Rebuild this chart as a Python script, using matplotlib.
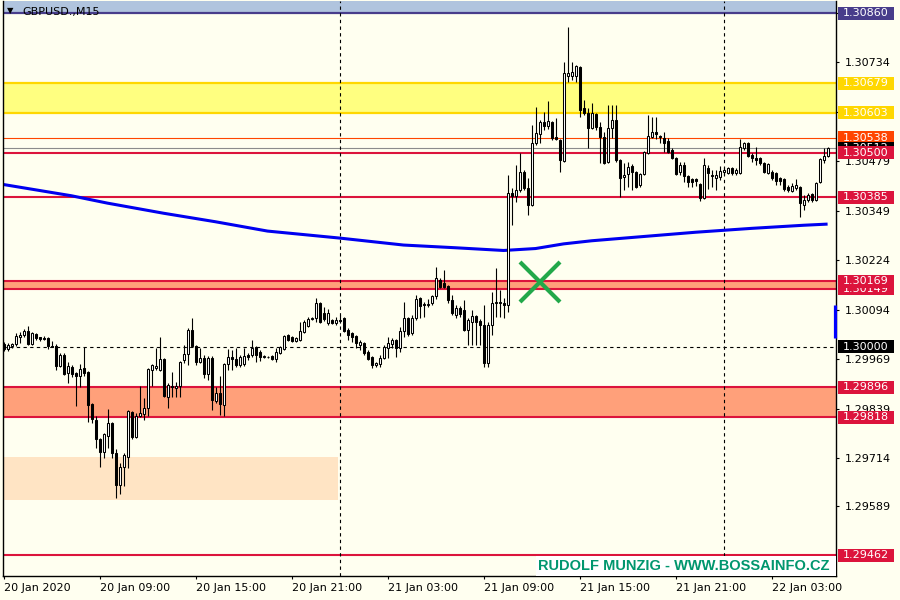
import matplotlib
matplotlib.use('Agg')
import matplotlib.pyplot as plt
import matplotlib.transforms as mtransforms
from matplotlib.patches import Rectangle
import numpy as np

# ---------------- data (GBPUSD M15) ----------------
opens = [
    1.30007, 1.29994, 1.30002, 1.30007, 1.30025, 1.30030, 1.30040, 1.30007, 1.30033, 1.30025,
    1.30022, 1.30022, 1.30002, 1.30002, 1.29950, 1.29979, 1.29932, 1.29948, 1.29932, 1.29924,
    1.29945, 1.29935, 1.29852, 1.29811, 1.29762, 1.29728, 1.29770, 1.29803, 1.29726, 1.29643,
    1.29690, 1.29715, 1.29831, 1.29767, 1.29821, 1.29826, 1.29842, 1.29940, 1.29945, 1.29940,
    1.29968, 1.29870, 1.29899, 1.29893, 1.29899, 1.29966, 1.29981, 1.30043, 1.30002, 1.29960,
    1.29971, 1.29930, 1.29971, 1.29860, 1.29881, 1.29850, 1.29955, 1.29973, 1.29968, 1.29953,
    1.29955, 1.29979, 1.29979, 1.29999, 1.29986, 1.29973, 1.29973, 1.29976, 1.29968, 1.29984,
    1.29994, 1.30030, 1.30025, 1.30015, 1.30017, 1.30038, 1.30053, 1.30071, 1.30074, 1.30113,
    1.30087, 1.30061, 1.30069, 1.30061, 1.30069, 1.30074, 1.30043, 1.30035, 1.30027, 1.30004,
    1.30009, 1.29986, 1.29973, 1.29953, 1.29955, 1.29971, 1.29997, 1.30007, 1.30017, 1.29997,
    1.30040, 1.30074, 1.30035, 1.30074, 1.30125, 1.30110, 1.30107, 1.30113, 1.30131, 1.30172,
    1.30164, 1.30156, 1.30120, 1.30082, 1.30100, 1.30095, 1.30043, 1.30064, 1.30079, 1.30066,
    1.30056, 1.29958, 1.30056, 1.30113, 1.30115, 1.30113, 1.30107, 1.30396, 1.30389, 1.30404,
    1.30450, 1.30409, 1.30365, 1.30525, 1.30548, 1.30579, 1.30569, 1.30579, 1.30541, 1.30533,
    1.30479, 1.30698, 1.30698, 1.30698, 1.30721, 1.30615, 1.30603, 1.30564, 1.30600, 1.30566,
    1.30541, 1.30476, 1.30564, 1.30585, 1.30481, 1.30437, 1.30445, 1.30466, 1.30450, 1.30417,
    1.30445, 1.30499, 1.30541, 1.30554, 1.30543, 1.30538, 1.30530, 1.30507, 1.30486, 1.30450,
    1.30469, 1.30440, 1.30432, 1.30432, 1.30419, 1.30383, 1.30461, 1.30443, 1.30435, 1.30437,
    1.30450, 1.30448, 1.30461, 1.30448, 1.30448, 1.30512, 1.30525, 1.30494, 1.30486, 1.30486,
    1.30474, 1.30448, 1.30450, 1.30448, 1.30435, 1.30432, 1.30412, 1.30401, 1.30409, 1.30412,
    1.30365, 1.30378, 1.30394, 1.30378, 1.30425, 1.30481, 1.30492,
]
highs = [
    1.30012, 1.30009, 1.30009, 1.30035, 1.30038, 1.30046, 1.30053, 1.30038, 1.30035, 1.30025,
    1.30027, 1.30025, 1.30015, 1.30007, 1.29984, 1.29984, 1.29960, 1.29953, 1.29935, 1.29955,
    1.29999, 1.29937, 1.29855, 1.29821, 1.29764, 1.29777, 1.29839, 1.29806, 1.29736, 1.29700,
    1.29726, 1.29837, 1.29834, 1.29829, 1.29899, 1.29868, 1.29945, 1.29955, 1.29997, 1.30025,
    1.29971, 1.29906, 1.29935, 1.29909, 1.29963, 1.30004, 1.30048, 1.30074, 1.30004, 1.29997,
    1.29979, 1.29976, 1.29976, 1.29896, 1.29924, 1.29958, 1.29994, 1.29991, 1.29997, 1.29979,
    1.29997, 1.29984, 1.30017, 1.30002, 1.29991, 1.29979, 1.29976, 1.29979, 1.29997, 1.30002,
    1.30030, 1.30033, 1.30027, 1.30025, 1.30064, 1.30069, 1.30077, 1.30077, 1.30125, 1.30115,
    1.30102, 1.30097, 1.30071, 1.30077, 1.30082, 1.30077, 1.30048, 1.30038, 1.30030, 1.30017,
    1.30012, 1.29991, 1.29976, 1.29960, 1.29979, 1.30004, 1.30025, 1.30022, 1.30020, 1.30051,
    1.30115, 1.30077, 1.30082, 1.30133, 1.30128, 1.30115, 1.30123, 1.30133, 1.30205, 1.30177,
    1.30198, 1.30159, 1.30133, 1.30107, 1.30105, 1.30120, 1.30074, 1.30095, 1.30082, 1.30071,
    1.30107, 1.30064, 1.30141, 1.30203, 1.30146, 1.30125, 1.30443, 1.30409, 1.30469, 1.30499,
    1.30456, 1.30435, 1.30572, 1.30618, 1.30585, 1.30605, 1.30634, 1.30582, 1.30590, 1.30536,
    1.30734, 1.30824, 1.30734, 1.30726, 1.30724, 1.30636, 1.30615, 1.30628, 1.30603, 1.30579,
    1.30554, 1.30623, 1.30623, 1.30623, 1.30484, 1.30474, 1.30476, 1.30471, 1.30453, 1.30448,
    1.30505, 1.30597, 1.30592, 1.30592, 1.30546, 1.30554, 1.30538, 1.30512, 1.30489, 1.30476,
    1.30476, 1.30443, 1.30435, 1.30435, 1.30422, 1.30486, 1.30469, 1.30456, 1.30456, 1.30466,
    1.30463, 1.30463, 1.30463, 1.30461, 1.30536, 1.30528, 1.30528, 1.30499, 1.30515, 1.30489,
    1.30476, 1.30474, 1.30456, 1.30450, 1.30437, 1.30435, 1.30417, 1.30422, 1.30432, 1.30414,
    1.30391, 1.30396, 1.30396, 1.30425, 1.30486, 1.30512, 1.30515,
]
lows = [
    1.29989, 1.29989, 1.29997, 1.30002, 1.30009, 1.30025, 1.30004, 1.30004, 1.30017, 1.30015,
    1.30017, 1.29994, 1.29999, 1.29940, 1.29948, 1.29927, 1.29906, 1.29922, 1.29847, 1.29896,
    1.29924, 1.29806, 1.29803, 1.29739, 1.29690, 1.29713, 1.29739, 1.29713, 1.29610, 1.29620,
    1.29641, 1.29687, 1.29762, 1.29764, 1.29819, 1.29811, 1.29821, 1.29899, 1.29940, 1.29937,
    1.29870, 1.29842, 1.29870, 1.29870, 1.29870, 1.29958, 1.29953, 1.29999, 1.29953, 1.29958,
    1.29919, 1.29914, 1.29837, 1.29855, 1.29824, 1.29821, 1.29940, 1.29940, 1.29948, 1.29948,
    1.29950, 1.29966, 1.29973, 1.29960, 1.29963, 1.29971, 1.29971, 1.29966, 1.29960, 1.29981,
    1.29991, 1.30015, 1.30012, 1.30012, 1.30015, 1.30035, 1.30051, 1.30069, 1.30064, 1.30061,
    1.30066, 1.30056, 1.30058, 1.30056, 1.30061, 1.30038, 1.30017, 1.30012, 1.29997, 1.29991,
    1.29979, 1.29966, 1.29945, 1.29948, 1.29948, 1.29968, 1.29971, 1.29997, 1.29973, 1.29986,
    1.30025, 1.30027, 1.30030, 1.30069, 1.30074, 1.30077, 1.30102, 1.30107, 1.30123, 1.30151,
    1.30151, 1.30113, 1.30082, 1.30074, 1.30077, 1.30040, 1.30004, 1.30004, 1.30004, 1.30004,
    1.29948, 1.29948, 1.30030, 1.30077, 1.30077, 1.30074, 1.30089, 1.30314, 1.30373, 1.30399,
    1.30404, 1.30340, 1.30363, 1.30520, 1.30525, 1.30559, 1.30561, 1.30533, 1.30533, 1.30450,
    1.30476, 1.30683, 1.30688, 1.30683, 1.30592, 1.30597, 1.30512, 1.30561, 1.30559, 1.30474,
    1.30471, 1.30474, 1.30538, 1.30476, 1.30386, 1.30404, 1.30412, 1.30404, 1.30409, 1.30412,
    1.30443, 1.30497, 1.30538, 1.30536, 1.30525, 1.30502, 1.30499, 1.30484, 1.30443, 1.30443,
    1.30425, 1.30412, 1.30412, 1.30414, 1.30376, 1.30381, 1.30407, 1.30412, 1.30404, 1.30430,
    1.30443, 1.30445, 1.30443, 1.30443, 1.30445, 1.30507, 1.30489, 1.30476, 1.30469, 1.30469,
    1.30448, 1.30445, 1.30430, 1.30417, 1.30417, 1.30401, 1.30399, 1.30399, 1.30404, 1.30334,
    1.30352, 1.30373, 1.30373, 1.30376, 1.30422, 1.30474, 1.30489,
]
closes = [
    1.29994, 1.30004, 1.30007, 1.30027, 1.30030, 1.30040, 1.30007, 1.30035, 1.30022, 1.30020,
    1.30020, 1.30002, 1.29999, 1.29950, 1.29979, 1.29930, 1.29950, 1.29930, 1.29924, 1.29942,
    1.29932, 1.29850, 1.29813, 1.29762, 1.29728, 1.29775, 1.29803, 1.29726, 1.29643, 1.29690,
    1.29721, 1.29834, 1.29767, 1.29821, 1.29829, 1.29842, 1.29942, 1.29953, 1.29950, 1.29968,
    1.29873, 1.29901, 1.29896, 1.29899, 1.29960, 1.29981, 1.30043, 1.30002, 1.29960, 1.29971,
    1.29930, 1.29971, 1.29862, 1.29881, 1.29852, 1.29955, 1.29973, 1.29968, 1.29953, 1.29973,
    1.29976, 1.29973, 1.29997, 1.29979, 1.29973, 1.29976, 1.29973, 1.29968, 1.29986, 1.29999,
    1.30027, 1.30017, 1.30015, 1.30022, 1.30040, 1.30064, 1.30071, 1.30074, 1.30113, 1.30064,
    1.30071, 1.30087, 1.30061, 1.30069, 1.30066, 1.30040, 1.30030, 1.30025, 1.30009, 1.30012,
    1.29984, 1.29968, 1.29953, 1.29958, 1.29971, 1.29999, 1.30009, 1.30017, 1.29997, 1.30040,
    1.30074, 1.30033, 1.30074, 1.30123, 1.30105, 1.30107, 1.30110, 1.30131, 1.30177, 1.30154,
    1.30154, 1.30120, 1.30087, 1.30100, 1.30084, 1.30043, 1.30069, 1.30079, 1.30064, 1.30056,
    1.29958, 1.30056, 1.30113, 1.30115, 1.30113, 1.30107, 1.30396, 1.30389, 1.30404, 1.30450,
    1.30409, 1.30365, 1.30525, 1.30551, 1.30579, 1.30569, 1.30582, 1.30538, 1.30536, 1.30481,
    1.30706, 1.30706, 1.30708, 1.30724, 1.30610, 1.30603, 1.30564, 1.30603, 1.30566, 1.30541,
    1.30474, 1.30564, 1.30585, 1.30481, 1.30435, 1.30443, 1.30463, 1.30450, 1.30412, 1.30445,
    1.30502, 1.30543, 1.30554, 1.30548, 1.30541, 1.30525, 1.30502, 1.30486, 1.30445, 1.30469,
    1.30440, 1.30425, 1.30425, 1.30427, 1.30383, 1.30469, 1.30448, 1.30440, 1.30443, 1.30453,
    1.30456, 1.30461, 1.30448, 1.30456, 1.30515, 1.30525, 1.30492, 1.30486, 1.30481, 1.30474,
    1.30450, 1.30471, 1.30435, 1.30427, 1.30427, 1.30407, 1.30404, 1.30414, 1.30417, 1.30370,
    1.30378, 1.30391, 1.30378, 1.30422, 1.30484, 1.30492, 1.30512,
]

# moving average read at selected bars
ma_bars = [0, 17, 26, 40, 53, 66, 84, 100, 113, 125, 133, 140, 147, 160, 173, 187, 200, 206]
ma_vals = [1.30418, 1.30389, 1.30370, 1.30344, 1.30322, 1.30298, 1.30280, 1.30262, 1.30255,
           1.30248, 1.30253, 1.30265, 1.30273, 1.30284, 1.30295, 1.30305, 1.30313, 1.30316]

# time axis
xtick_bars = [0, 24, 48, 72, 96, 120, 144, 168, 192]
xtick_labels = ['20 Jan 2020', '20 Jan 09:00', '20 Jan 15:00', '20 Jan 21:00', '21 Jan 03:00',
                '21 Jan 09:00', '21 Jan 15:00', '21 Jan 21:00', '22 Jan 03:00']
day_separators = [84, 180]

# price axis
ytick_vals = [1.30860, 1.30734, 1.30604, 1.30479, 1.30349, 1.30224, 1.30094,
              1.29969, 1.29839, 1.29714, 1.29589]

# levels / zones
top_level = 1.30860
yellow_zone = (1.30603, 1.30679)
orange_level = 1.30538
bid_level = 1.30512
red_levels = [1.30500, 1.30385, 1.29462]
salmon_zones = [(1.30149, 1.30169), (1.29818, 1.29896)]
round_level = 1.30000
bisque_zone = (1.29605, 1.29716)
bisque_end_bar = 84
sell_mark = (134, 1.30167)
spread_mark = (1.30022, 1.30107)

# right-hand price tags (drawn in this order)
tags = [
    (1.30860, '#483D8B'),
    (1.30679, '#FFD700'),
    (1.30603, '#FFD700'),
    (1.30538, '#FF4500'),
    (1.30512, '#000000'),
    (1.30500, '#DC143C'),
    (1.30385, '#DC143C'),
    (1.30149, '#DC143C'),
    (1.30169, '#DC143C'),
    (1.30000, '#000000'),
    (1.29896, '#DC143C'),
    (1.29818, '#DC143C'),
    (1.29462, '#DC143C'),
]

# ---------------- figure ----------------
BG = '#FFFFF0'
CRIMSON = '#DC143C'
W, H = 900, 600
plt.rcParams['font.family'] = ['DejaVu Sans']
fig = plt.figure(figsize=(9, 6), dpi=100, facecolor=BG)
ax = fig.add_axes([2.5 / W, 24 / H, 833.5 / W, 575 / H])
ax.set_facecolor(BG)
ymin, ymax = 1.29409, 1.30891
ax.set_xlim(-0.25, 208.1)
ax.set_ylim(ymin, ymax)

# zones & levels
ax.axhspan(top_level, ymax, color='#B0C4DE', lw=0, zorder=0.5)
ax.axhline(top_level, color='#483D8B', lw=1.6, zorder=1)
ax.axhspan(yellow_zone[0], yellow_zone[1], color='#FFFF80', lw=0, zorder=0.5)
for v in yellow_zone:
    ax.axhline(v, color='#FFD700', lw=1.6, zorder=1)
ax.axhline(orange_level, color='#FF4500', lw=0.8, zorder=1)
ax.axhline(bid_level, color='#8C8C8C', lw=0.8, zorder=1)
for v in red_levels:
    ax.axhline(v, color=CRIMSON, lw=1.5, zorder=1)
for lo, hi in salmon_zones:
    ax.axhspan(lo, hi, color='#FFA07A', lw=0, zorder=0.5)
    ax.axhline(lo, color=CRIMSON, lw=1.5, zorder=1)
    ax.axhline(hi, color=CRIMSON, lw=1.5, zorder=1)
ax.add_patch(Rectangle((-0.25, bisque_zone[0]), bisque_end_bar - 0.25 + 0.25 - 0.25,
                       bisque_zone[1] - bisque_zone[0], facecolor='#FFE4C4',
                       edgecolor='none', zorder=0.4))
ax.axhline(round_level, color='black', lw=0.8, ls=(0, (3, 3)), zorder=1.1)
for b in day_separators:
    ax.axvline(b, color='black', lw=0.8, ls=(0, (3, 3)), zorder=1.1)

# moving average
ax.plot(ma_bars, ma_vals, color='#0000F0', lw=2.2, zorder=2, solid_capstyle='butt')

# candles
x = np.arange(len(opens))
o = np.array(opens); h = np.array(highs); l = np.array(lows); c = np.array(closes)
top = np.maximum.reduce([h, o, c]); bot = np.minimum.reduce([l, o, c])
ax.vlines(x, bot, top, color='black', lw=0.8, zorder=3)
up = c >= o
body_lo = np.minimum(o, c)
body_h = np.abs(c - o)
ax.bar(x[up], body_h[up], bottom=body_lo[up], width=0.5, facecolor='white',
       edgecolor='black', linewidth=0.75, zorder=4)
ax.bar(x[~up], body_h[~up], bottom=body_lo[~up], width=0.5, facecolor='black',
       edgecolor='black', linewidth=0.75, zorder=4)

# sell mark
ax.plot([sell_mark[0]], [sell_mark[1]], marker='x', ms=29, mew=3.0, color='#22A84A',
        zorder=6, linestyle='none')

# spread marker at right edge
ax.plot([207.9, 207.9], list(spread_mark), color='#0000FF', lw=2.3, zorder=7,
        clip_on=False, solid_capstyle='butt')

# axes styling
for s in ['top']:
    ax.spines[s].set_visible(False)
for s in ['left', 'right', 'bottom']:
    ax.spines[s].set_color('black')
    ax.spines[s].set_linewidth(1.0)
ax.yaxis.tick_right()
ax.set_yticks(ytick_vals)
ax.set_yticklabels([f'{v:.5f}' for v in ytick_vals])
ax.tick_params(axis='y', length=2.5, width=0.8, pad=3.5, labelsize=8, colors='black')
ax.set_xticks(xtick_bars)
ax.set_xticklabels(xtick_labels, ha='left')
ax.tick_params(axis='x', length=2.5, width=0.8, pad=2.5, labelsize=8, colors='black')

# price tags
trans = mtransforms.blended_transform_factory(ax.transAxes, ax.transData)
half = 6.5 * (ymax - ymin) / 575
x0 = (838 - 2.5) / 833.5
x1 = (894 - 2.5) / 833.5
xt = (843 - 2.5) / 833.5
for k, (v, col) in enumerate(tags):
    z = 10 + k
    ax.add_patch(Rectangle((x0, v - half), x1 - x0, 2 * half, transform=trans,
                           facecolor=col, edgecolor='none', clip_on=False, zorder=z))
    ax.text(xt, v, f'{v:.5f}', transform=trans, color='white', fontsize=8,
            va='center', ha='left', clip_on=False, zorder=z + 0.5)

# title
fig.text(10 / W, 1 - 11 / H, '\u25BC', fontsize=6, ha='center', va='center', color='black')
fig.text(22 / W, 1 - 12 / H, 'GBPUSD.,M15', fontsize=8, ha='left', va='center', color='black')

# watermark
ax.add_patch(Rectangle(((536 - 2.5) / 833.5, 0), 1 - (536 - 2.5) / 833.5, 20 / 575,
                       transform=ax.transAxes, facecolor='white', edgecolor='none',
                       zorder=8))
ax.text((684 - 2.5) / 833.5, 10.5 / 575, 'RUDOLF MUNZIG - WWW.BOSSAINFO.CZ',
        transform=ax.transAxes, fontsize=10.5, fontweight='bold',
        family=['Liberation Sans', 'DejaVu Sans'], color='#00966E',
        ha='center', va='center', zorder=9)

fig.savefig('out.png', dpi=100, facecolor=BG)
